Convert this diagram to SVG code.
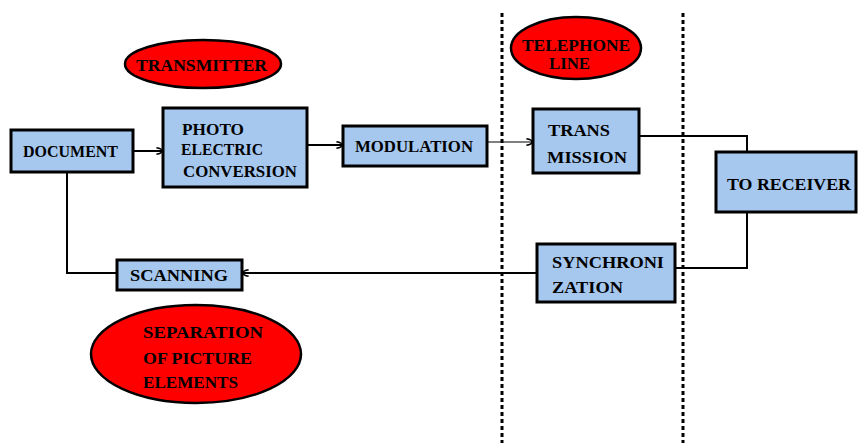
<svg xmlns="http://www.w3.org/2000/svg" width="858" height="443" viewBox="0 0 858 443">
<style>
.box{fill:#a6c8ef;stroke:#000;stroke-width:3}
.oval{fill:#ff0000;stroke:#000;stroke-width:2.5}
.t{font-family:"Liberation Serif",serif;font-weight:bold;font-size:17px;fill:#000}
.c{fill:none;stroke:#000;stroke-width:2}
.thin{fill:none;stroke:#000;stroke-width:1.2}
.dot{fill:none;stroke:#000;stroke-width:3;stroke-dasharray:4 3}
</style>
<defs>
<marker id="ah" viewBox="0 0 10 10" refX="9" refY="5" markerWidth="8" markerHeight="8" markerUnits="userSpaceOnUse" orient="auto">
<path d="M2,1 Q9,2 9,5 Q9,8 2,9" fill="none" stroke="#000" stroke-width="2"/>
</marker>
</defs>
<rect width="858" height="443" fill="#fff"/>
<g id="dividers">
<line class="dot" x1="502" y1="13" x2="502" y2="443"/>
<line class="dot" x1="683" y1="13" x2="683" y2="443"/>
</g>
<g id="connectors">
<line class="c" x1="133" y1="151" x2="162" y2="151" marker-end="url(#ah)"/>
<line class="c" x1="307" y1="145" x2="342" y2="145" marker-end="url(#ah)"/>
<line class="thin" x1="487" y1="142" x2="532" y2="142" marker-end="url(#ah)"/>
<polyline class="c" points="639,136 747,136 747,152"/>
<polyline class="c" points="747,212 747,268 675,268"/>
<line class="c" x1="537" y1="273" x2="243" y2="273" marker-end="url(#ah)"/>
<polyline class="c" points="67,172 67,273 117,273"/>
</g>
<g id="transmitter">
<ellipse class="oval" cx="203" cy="64" rx="78" ry="24"/>
<text class="t" x="136" y="71" textLength="131" lengthAdjust="spacingAndGlyphs">TRANSMITTER</text>
</g>
<g id="telephone-line">
<ellipse class="oval" cx="576" cy="48" rx="65" ry="31"/>
<text class="t" x="522" y="51" textLength="108" lengthAdjust="spacingAndGlyphs">TELEPHONE</text>
<text class="t" x="549" y="69" textLength="41" lengthAdjust="spacingAndGlyphs">LINE</text>
</g>
<g id="document">
<rect class="box" x="11" y="130" width="122" height="42"/>
<text class="t" x="23" y="157" textLength="95" lengthAdjust="spacingAndGlyphs">DOCUMENT</text>
</g>
<g id="photo-electric">
<rect class="box" x="163" y="108" width="144" height="79"/>
<text class="t" x="182" y="135" textLength="62" lengthAdjust="spacingAndGlyphs">PHOTO</text>
<text class="t" x="181" y="155" textLength="82" lengthAdjust="spacingAndGlyphs">ELECTRIC</text>
<text class="t" x="183" y="177" textLength="114" lengthAdjust="spacingAndGlyphs">CONVERSION</text>
</g>
<g id="modulation">
<rect class="box" x="343" y="126" width="144" height="40"/>
<text class="t" x="355" y="152" textLength="118" lengthAdjust="spacingAndGlyphs">MODULATION</text>
</g>
<g id="transmission">
<rect class="box" x="533" y="109" width="106" height="64"/>
<text class="t" x="548" y="136" textLength="62" lengthAdjust="spacingAndGlyphs">TRANS</text>
<text class="t" x="547" y="163" textLength="80" lengthAdjust="spacingAndGlyphs">MISSION</text>
</g>
<g id="to-receiver">
<rect class="box" x="716" y="152" width="140" height="60"/>
<text class="t" x="727" y="190" textLength="124" lengthAdjust="spacingAndGlyphs">TO RECEIVER</text>
</g>
<g id="synchronization">
<rect class="box" x="537" y="244" width="138" height="58"/>
<text class="t" x="552" y="268" textLength="112" lengthAdjust="spacingAndGlyphs">SYNCHRONI</text>
<text class="t" x="552" y="293" textLength="71" lengthAdjust="spacingAndGlyphs">ZATION</text>
</g>
<g id="scanning">
<rect class="box" x="117" y="260" width="125" height="30"/>
<text class="t" x="130" y="281" textLength="98" lengthAdjust="spacingAndGlyphs">SCANNING</text>
</g>
<g id="separation">
<ellipse class="oval" cx="196" cy="354" rx="105" ry="49"/>
<text class="t" x="143" y="338" textLength="120" lengthAdjust="spacingAndGlyphs">SEPARATION</text>
<text class="t" x="143" y="364" textLength="109" lengthAdjust="spacingAndGlyphs">OF PICTURE</text>
<text class="t" x="143" y="388" textLength="95" lengthAdjust="spacingAndGlyphs">ELEMENTS</text>
</g>
</svg>
